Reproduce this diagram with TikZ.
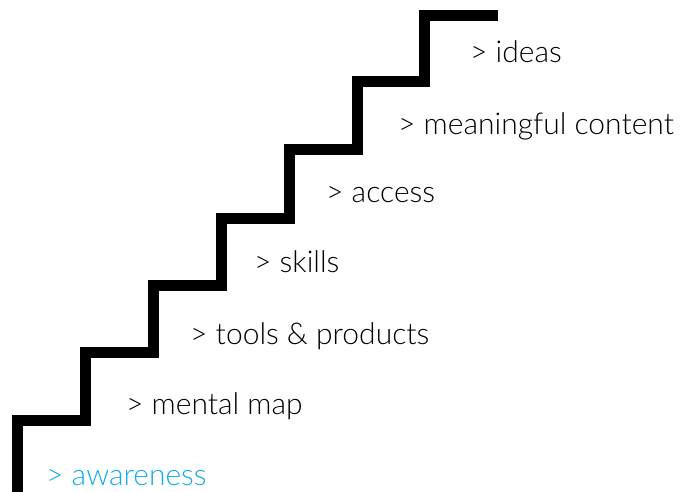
\documentclass[tikz,border=0pt]{standalone}
\usepackage{fontspec}
\setmainfont{Lato Light}
\definecolor{awareblue}{RGB}{20,172,236}
\begin{document}
\begin{tikzpicture}[x=1pt,y=1pt,
  stair/.style={line width=11pt, line join=miter, line cap=butt, black},
  label/.style={anchor=base west, inner sep=0pt, font=\fontsize{30}{34}\selectfont, text=black}]
\useasboundingbox (0,0) rectangle (682,492);
\coordinate (s0) at (17.5,0);
\coordinate (s1) at (17.5,71);
\coordinate (s2) at (85.5,71);
\coordinate (s3) at (85.5,139);
\coordinate (s4) at (153,139);
\coordinate (s5) at (153,206.5);
\coordinate (s6) at (221,206.5);
\coordinate (s7) at (221,273.5);
\coordinate (s8) at (289,273.5);
\coordinate (s9) at (289,342);
\coordinate (s10) at (357,342);
\coordinate (s11) at (357,410);
\coordinate (s12) at (424.5,410);
\coordinate (s13) at (424.5,476.5);
\coordinate (s14) at (497.7,476.5);
\draw[stair] (s0) -- (s1) -- (s2) -- (s3) -- (s4) -- (s5) -- (s6) -- (s7) -- (s8) -- (s9) -- (s10) -- (s11) -- (s12) -- (s13) -- (s14);
\node[label] (ideas) at (470,429) {> ideas};
\node[label] (content) at (398,357) {> meaningful content};
\node[label] (access) at (326,289) {> access};
\node[label] (skills) at (254,219) {> skills};
\node[label] (tools) at (190,147) {> tools \& products};
\node[label] (mental) at (126,77) {> mental map};
\node[label, text=awareblue] (aware) at (46,6) {> awareness};
\end{tikzpicture}
\end{document}
